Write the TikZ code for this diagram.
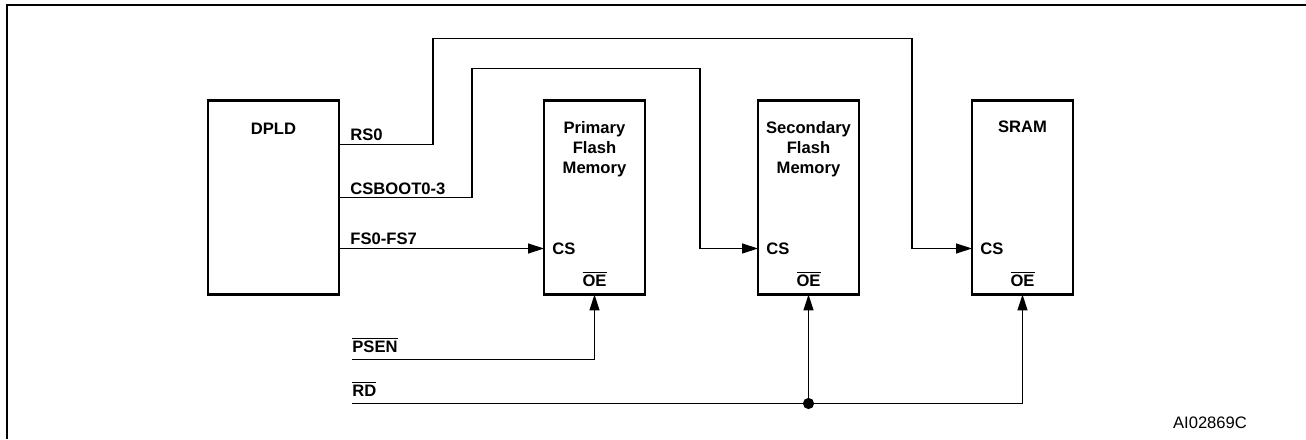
\documentclass[tikz,border=0pt]{standalone}
\usepackage{amsmath}
\usepackage{fontspec}
\setmainfont{Liberation Sans}
\usetikzlibrary{arrows.meta, positioning}
\newcommand{\ovl}[1]{$\overline{\mbox{#1}}$}

\begin{document}
\begin{tikzpicture}[x=0.5pt, y=0.5pt,
  font=\fontsize{8.3}{10}\selectfont\bfseries,
  chip/.style={draw, line width=1.3pt, minimum width=50.5pt, minimum height=97pt, inner sep=0pt, outer sep=0pt},
  txt/.style={inner sep=0pt, align=center},
  sig/.style={line width=0.65pt},
  tip/.style={-{Triangle[length=8pt, width=5pt]}}]
\useasboundingbox (0,0) rectangle (1306,439);
\draw[line width=1pt] (7,0) |- (1306,434);

\node[chip, minimum width=65.5pt] (DPLD) at (273.5,241.5) {};
\node[chip, right=102.5pt of DPLD] (Pri) {};
\node[chip, right=56.5pt of Pri] (Sec) {};
\node[chip, right=56.5pt of Sec] (SRAM) {};

% titles
\node[txt, below=11.2pt of DPLD.north] (DPLDt) {DPLD};
\node[txt, below=10.2pt of Pri.north] (Prit) {Primary\\Flash\\Memory};
\node[txt, below=10.2pt of Sec.north] (Sect) {Secondary\\Flash\\Memory};
\node[txt, below=10.2pt of SRAM.north] (SRAMt) {SRAM};

% CS and OE pins
\coordinate (PriCS) at ([yshift=-74pt]Pri.north west);
\coordinate (SecCS) at ([yshift=-74pt]Sec.north west);
\coordinate (SRAMCS) at ([yshift=-74pt]SRAM.north west);
\node[txt, right=4pt of PriCS] (PriCSt) {CS};
\node[txt, right=4pt of SecCS] (SecCSt) {CS};
\node[txt, right=4pt of SRAMCS] (SRAMCSt) {CS};
\node[txt, anchor=base] (PriOE) at ([yshift=4pt]Pri.south) {\ovl{OE}};
\node[txt, anchor=base] (SecOE) at ([yshift=4pt]Sec.south) {\ovl{OE}};
\node[txt, anchor=base] (SRAMOE) at ([yshift=4pt]SRAM.south) {\ovl{OE}};

% DPLD outputs
\coordinate (RSo) at ([yshift=-22pt]DPLD.north east);
\coordinate (CSBo) at ([yshift=-48.5pt]DPLD.north east);
\coordinate (FSo) at (DPLD.east |- PriCS);
\node[txt, anchor=base west] (RSt) at ([xshift=5.5pt,yshift=2pt]RSo) {RS0};
\node[txt, anchor=base west] (CSBt) at ([xshift=5.5pt,yshift=1.5pt]CSBo) {CSBOOT0-3};
\node[txt, anchor=base west] (FSt) at ([xshift=5.5pt,yshift=2pt]FSo) {FS0-FS7};

\coordinate (RSup) at ([xshift=47pt,yshift=53pt]RSo);
\coordinate (RSdn) at ([xshift=-30pt]SRAMCS);
\coordinate (CSBup) at ([xshift=66.5pt,yshift=64.5pt]CSBo);
\coordinate (CSBdn) at ([xshift=-29pt]SecCS);
\draw[sig, tip] (RSo) -| (RSup) -| (RSdn) -- (SRAMCS);
\draw[sig, tip] (CSBo) -| (CSBup) -| (CSBdn) -- (SecCS);
\draw[sig, tip] (FSo) -- (PriCS);

% strobes
\coordinate (PSEN) at ([xshift=6.5pt,yshift=-32.5pt]DPLD.south east);
\coordinate (RD) at ([xshift=6.5pt,yshift=-54.5pt]DPLD.south east);
\coordinate (Jn) at (Sec.south |- RD);
\node[txt, anchor=base west] (PSENt) at ([yshift=3.5pt]PSEN) {\ovl{PSEN}};
\node[txt, anchor=base west] (RDt) at ([yshift=3.5pt]RD) {\ovl{RD}};
\draw[sig, tip] (PSEN) -| (Pri.south);
\draw[sig, tip] (RD) -| (SRAM.south);
\draw[sig, tip] (Jn) -- (Sec.south);
\fill (Jn) circle (2.8pt);

\node[txt, font=\fontsize{8.3}{10}\selectfont\mdseries] (Code) at (1210,16) {AI02869C};
\end{tikzpicture}
\end{document}
